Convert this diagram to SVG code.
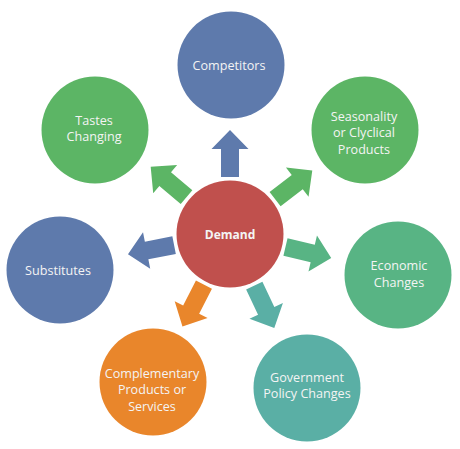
<svg xmlns="http://www.w3.org/2000/svg" width="460" height="449" viewBox="0 0 460 449">
<style>
text{font-family:"Open Sans","Liberation Sans",sans-serif;font-size:12.6px;fill:#F4F4F4;text-anchor:middle}
.b{font-weight:bold;font-size:12px}
.blue{fill:#5E7AAC}.green{fill:#5CB565}.econ{fill:#58B484}.teal{fill:#5AAFA5}.orange{fill:#E9862B}.red{fill:#C0504D}
</style>
<defs>
<path id="arr" d="M57,-9 L85,-9 L85,-18.5 L104,0 L85,18.5 L85,9 L57,9 Z"/>
</defs>
<rect width="460" height="449" fill="#FFFFFF"/>
<g id="connectors">
<use href="#arr" class="blue" transform="translate(230,234) rotate(-90)"/>
<use href="#arr" class="green" transform="translate(230,234) rotate(-37.7)"/>
<use href="#arr" class="econ" transform="translate(230,234) rotate(13.3)"/>
<use href="#arr" class="teal" transform="translate(230,234) rotate(64.8)"/>
<use href="#arr" class="orange" transform="translate(230,234) rotate(117.2)"/>
<use href="#arr" class="blue" transform="translate(230,234) rotate(168.8)"/>
<use href="#arr" class="green" transform="translate(230,234) rotate(-139.7)"/>
</g>
<g id="demand"><circle cx="230" cy="234" r="53.5" class="red"/><text class="b" x="230" y="238.5">Demand</text></g>
<g id="competitors"><circle cx="231" cy="65" r="53.5" class="blue"/><text x="229" y="69.5">Competitors</text></g>
<g id="seasonality"><circle cx="365" cy="130" r="53.5" class="green"/><text x="364" y="120.5">Seasonality</text><text x="364" y="137">or Clyclical</text><text x="364" y="153.5">Products</text></g>
<g id="economic"><circle cx="398" cy="275" r="53.5" class="econ"/><text x="399" y="270">Economic</text><text x="399" y="287">Changes</text></g>
<g id="government"><circle cx="307" cy="388" r="53.5" class="teal"/><text x="307" y="381.5">Government</text><text x="307" y="398">Policy Changes</text></g>
<g id="complementary"><circle cx="153" cy="382" r="53.5" class="orange"/><text x="152" y="377.5">Complementary</text><text x="152" y="394">Products or</text><text x="152" y="410.5">Services</text></g>
<g id="substitutes"><circle cx="60" cy="270" r="53.5" class="blue"/><text x="58" y="274.5">Substitutes</text></g>
<g id="tastes"><circle cx="95" cy="130" r="53.5" class="green"/><text x="94" y="124.5">Tastes</text><text x="94" y="141">Changing</text></g>
</svg>
